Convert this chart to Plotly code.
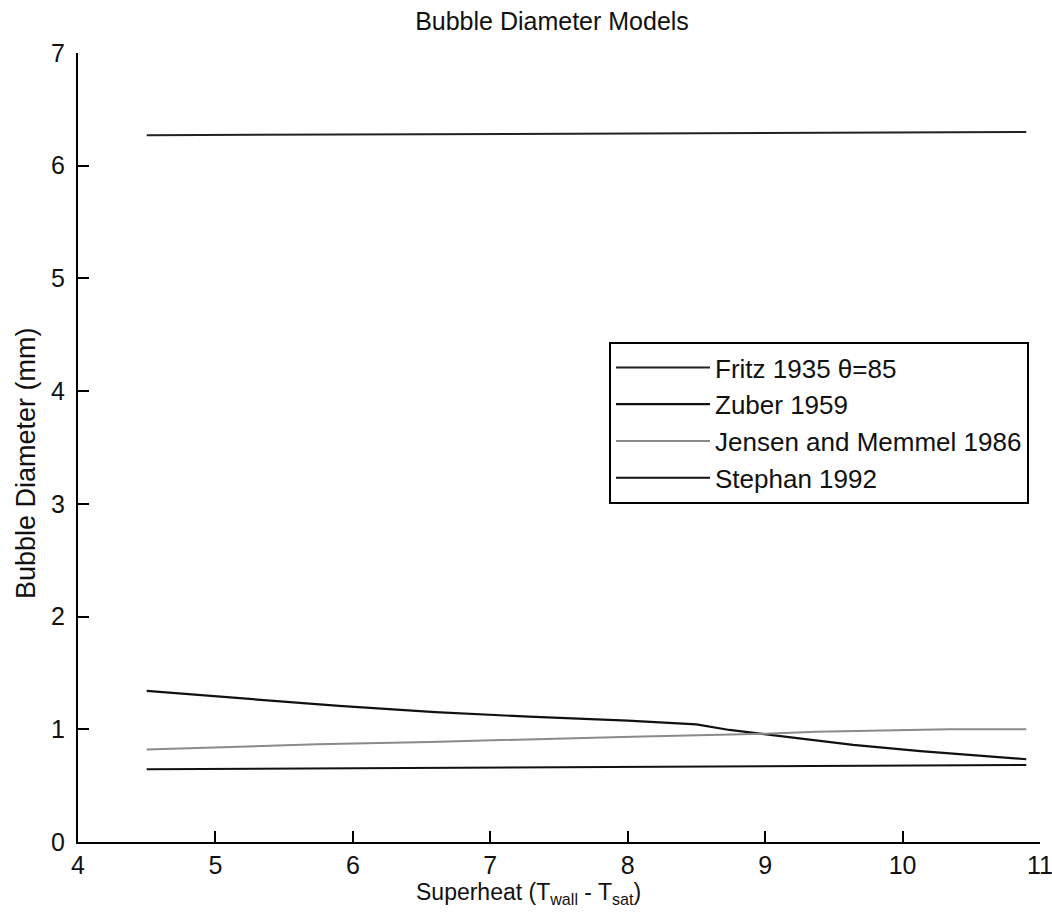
import plotly.graph_objects as go

# Data
fritz_x = [4.5, 10.9]
fritz_y = [6.27, 6.30]

zuber_x = [4.5, 5.17, 5.9, 6.6, 7.28, 8.0, 8.5, 8.74, 9.03, 9.64, 10.13, 10.61, 10.9]
zuber_y = [1.34, 1.275, 1.207, 1.153, 1.112, 1.077, 1.044, 0.994, 0.949, 0.861, 0.807, 0.763, 0.734]

jensen_x = [4.5, 4.92, 5.74, 6.56, 7.26, 8.03, 9.0, 9.37, 10.34, 10.9]
jensen_y = [0.82, 0.838, 0.867, 0.888, 0.911, 0.934, 0.96, 0.979, 1.0, 1.0]

stephan_x = [4.5, 10.9]
stephan_y = [0.645, 0.683]

x_ticks = [4, 5, 6, 7, 8, 9, 10, 11]
y_ticks = [0, 1, 2, 3, 4, 5, 6, 7]

FONT = "Liberation Sans, Arial, sans-serif"

fig = go.Figure()
fig.add_trace(go.Scatter(x=fritz_x, y=fritz_y, mode="lines", name="Fritz 1935 θ=85",
                         line=dict(color="#222222", width=2)))
fig.add_trace(go.Scatter(x=zuber_x, y=zuber_y, mode="lines", name="Zuber 1959",
                         line=dict(color="#111111", width=2.2)))
fig.add_trace(go.Scatter(x=jensen_x, y=jensen_y, mode="lines", name="Jensen and Memmel 1986",
                         line=dict(color="#8a8a8a", width=2)))
fig.add_trace(go.Scatter(x=stephan_x, y=stephan_y, mode="lines", name="Stephan 1992",
                         line=dict(color="#111111", width=2)))

axis_common = dict(
    showgrid=False, zeroline=False, showline=True, linecolor="black", linewidth=2,
    ticks="inside", ticklen=11, tickwidth=2, tickcolor="black", mirror=False,
    tickfont=dict(family=FONT, size=25, color="#111111"),
    ticklabeloverflow="allow", automargin=False,
)

fig.update_layout(
    width=1052, height=919,
    margin=dict(l=78, r=12, t=53, b=77, autoexpand=False),
    paper_bgcolor="white", plot_bgcolor="white",
    font=dict(family=FONT, size=24, color="black"),
    title=dict(text="Bubble Diameter Models", x=552 / 1052, xanchor="center",
               y=1 - 21 / 919, yanchor="middle",
               font=dict(family=FONT, size=25, color="#111111")),
    xaxis=dict(range=[4, 11], tickvals=x_ticks, **axis_common),
    yaxis=dict(range=[0, 7], tickvals=y_ticks, ticklabelstandoff=6, **axis_common),
    showlegend=True,
    legend=dict(x=(609 - 78) / 962, y=(842 - 342) / 789, xanchor="left", yanchor="top",
                bgcolor="white", bordercolor="black", borderwidth=2,
                font=dict(family=FONT, size=26, color="#111111"),
                itemwidth=94, tracegroupgap=0),
    annotations=[
        dict(text="Superheat (T<sub>wall</sub> - T<sub>sat</sub>)", xref="paper", yref="paper",
             x=(528 - 78) / 962, y=-(893 - 842) / 789, xanchor="center", yanchor="middle",
             showarrow=False, font=dict(family=FONT, size=23, color="#111111")),
        dict(text="Bubble Diameter (mm)", xref="paper", yref="paper",
             x=-(78 - 26) / 962, y=(842 - 463) / 789, xanchor="center", yanchor="middle",
             textangle=-90, showarrow=False, font=dict(family=FONT, size=27, color="#111111")),
    ],
)

fig.write_html("out.html")
